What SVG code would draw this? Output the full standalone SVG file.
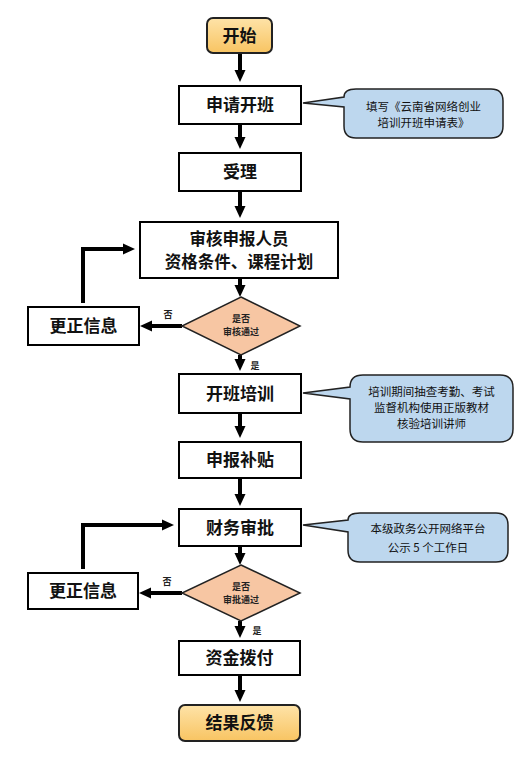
<svg xmlns="http://www.w3.org/2000/svg" width="527" height="776" viewBox="0 0 527 776">
<defs>
<linearGradient id="og" x1="0" y1="0" x2="0" y2="1">
<stop offset="0" stop-color="#fee3a8"/>
<stop offset="1" stop-color="#f8c462"/>
</linearGradient>
<marker id="ah" markerUnits="userSpaceOnUse" markerWidth="12" markerHeight="12" refX="1" refY="6" orient="auto">
<path d="M0,0.5 L12,6 L0,11.5 Z" fill="#000"/>
</marker>
<style>
.box{fill:#fff;stroke:#000;stroke-width:2}
.term{fill:url(#og);stroke:#222;stroke-width:2}
.dia{fill:#f7c6a3;stroke:#222;stroke-width:1.5}
.call{fill:#bdd7ee;stroke:#222;stroke-width:1.5}
.t{font-family:"Noto Sans CJK SC","Liberation Serif",serif;font-size:17px;font-weight:bold;text-anchor:middle;fill:#111}
.t2{font-size:16.5px}
.dt{font-family:"Noto Sans CJK SC",serif;font-size:9px;font-weight:bold;text-anchor:middle;fill:#222}
.ct{font-family:"Noto Sans CJK SC","Liberation Sans",sans-serif;font-size:11.5px;text-anchor:middle;fill:#111}
.lb{font-family:"Noto Sans CJK SC",sans-serif;font-size:9px;font-weight:bold;text-anchor:middle;fill:#222}
.ar{fill:none;stroke:#000;stroke-width:4;marker-end:url(#ah)}
</style>
</defs>

<g id="connectors">
<line class="ar" x1="240" y1="53" x2="240" y2="71"/>
<line class="ar" x1="240" y1="124" x2="240" y2="138"/>
<line class="ar" x1="240" y1="191" x2="240" y2="207"/>
<line class="ar" x1="240" y1="278" x2="240" y2="286"/>
<line class="ar" x1="240" y1="355" x2="240" y2="360"/>
<line class="ar" x1="240" y1="413" x2="240" y2="427"/>
<line class="ar" x1="240" y1="478" x2="240" y2="495"/>
<line class="ar" x1="240" y1="546" x2="240" y2="554"/>
<line class="ar" x1="240" y1="621" x2="240" y2="627"/>
<line class="ar" x1="240" y1="675" x2="240" y2="691"/>
<line class="ar" x1="182" y1="326" x2="151" y2="326"/>
<line class="ar" x1="182" y1="593" x2="150" y2="593"/>
<polyline class="ar" points="83,303 83,249 124,249"/>
<polyline class="ar" points="83,569 83,525 163,525"/>
<text class="lb" x="168" y="318">否</text>
<text class="lb" x="167" y="585">否</text>
<text class="lb" x="255" y="369">是</text>
<text class="lb" x="257" y="634">是</text>
</g>

<g id="start">
<rect class="term" x="207" y="18" width="65" height="35" rx="6"/>
<text class="t" x="239.5" y="41.5">开始</text>
</g>
<g id="apply">
<rect class="box" x="179" y="86" width="122" height="38"/>
<text class="t" x="240" y="111">申请开班</text>
</g>
<g id="note1">
<path class="call" d="M303,103 L344,97 Q344,89 356,89 L491,89 Q503,89 503,101 L503,126 Q503,138 491,138 L356,138 Q344,138 344,126 L344,107 Z"/>
<text class="ct" x="423.5" y="111">填写《云南省网络创业</text>
<text class="ct" x="423.5" y="127">培训开班申请表》</text>
</g>
<g id="accept">
<rect class="box" x="179" y="153" width="122" height="38"/>
<text class="t" x="240" y="178">受理</text>
</g>
<g id="review">
<rect class="box" x="140" y="222" width="198" height="56"/>
<text class="t t2" x="239" y="245">审核申报人员</text>
<text class="t t2" x="239" y="268">资格条件、课程计划</text>
</g>
<g id="decision1">
<polygon class="dia" points="241,297 300,326 241,355 182,326"/>
<text class="dt" x="241" y="322">是否</text>
<text class="dt" x="241" y="335">审核通过</text>
</g>
<g id="fix1">
<rect class="box" x="28" y="307" width="111" height="38"/>
<text class="t" x="83.5" y="332">更正信息</text>
</g>
<g id="training">
<rect class="box" x="179" y="374" width="122" height="39"/>
<text class="t" x="240" y="399.5">开班培训</text>
</g>
<g id="note2">
<path class="call" d="M303,393 L350,387 Q350,375 363,375 L500,375 Q513,375 513,388 L513,429 Q513,442 500,442 L363,442 Q350,442 350,429 L350,399 Z"/>
<text class="ct" x="431.5" y="396">培训期间抽查考勤、考试</text>
<text class="ct" x="431.5" y="412">监督机构使用正版教材</text>
<text class="ct" x="431.5" y="428">核验培训讲师</text>
</g>
<g id="subsidy">
<rect class="box" x="179" y="442" width="122" height="36"/>
<text class="t" x="240" y="466">申报补贴</text>
</g>
<g id="finance">
<rect class="box" x="179" y="509" width="122" height="37"/>
<text class="t" x="240" y="533.5">财务审批</text>
</g>
<g id="note3">
<path class="call" d="M303,525 L348,520 Q348,513 360,513 L496,513 Q508,513 508,525 L508,550 Q508,562 496,562 L360,562 Q348,562 348,550 L348,532 Z"/>
<text class="ct" x="428" y="533">本级政务公开网络平台</text>
<text class="ct" x="428" y="552">公示 5 个工作日</text>
</g>
<g id="decision2">
<polygon class="dia" points="241,565 300,593 241,621 182,593"/>
<text class="dt" x="241" y="590">是否</text>
<text class="dt" x="241" y="603">审批通过</text>
</g>
<g id="fix2">
<rect class="box" x="28" y="573" width="110" height="36"/>
<text class="t" x="83" y="597">更正信息</text>
</g>
<g id="fund">
<rect class="box" x="179" y="641" width="121" height="34"/>
<text class="t" x="239.5" y="664">资金拨付</text>
</g>
<g id="end">
<rect class="term" x="179" y="705" width="121" height="36" rx="6"/>
<text class="t" x="239.5" y="729">结果反馈</text>
</g>
</svg>
